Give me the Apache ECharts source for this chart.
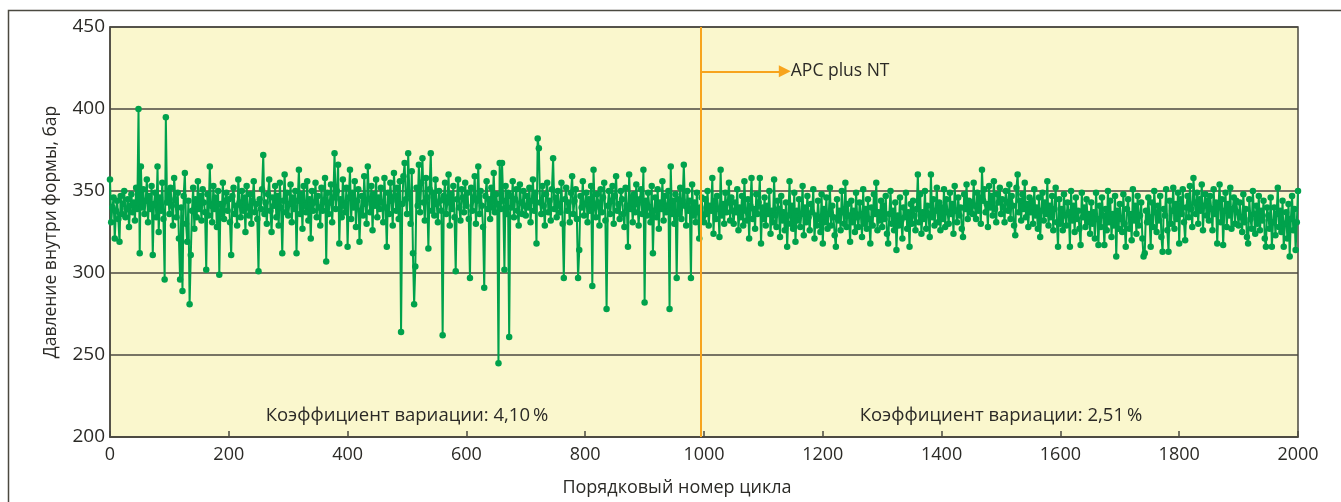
<!DOCTYPE html>
<html>
<head>
<meta charset="utf-8">
<script src="https://cdn.jsdelivr.net/npm/echarts@6/dist/echarts.min.js"></script>
<style>
  html, body { margin: 0; padding: 0; background: #fff; }
  #chart { width: 1341px; height: 502px; }
</style>
</head>
<body>
<div id="chart"></div>
<script>
// pressure per cycle, every 2nd cycle (0..2000)
var cycleStep = 2;
var pressure = [
  357, 331, 340, 346, 321, 338, 344, 333, 319, 347, 336, 342, 350, 334, 339, 345, 328, 341, 348, 337, 343, 332, 352, 339, 400,
  312, 365, 340, 351, 336, 344, 357, 331, 347, 339, 353, 311, 342, 349, 334, 365, 325, 346, 338, 355, 333, 296, 395, 343, 350,
  336, 352, 341, 329, 358, 345, 334, 349, 321, 296, 340, 289, 347, 361, 330, 319, 344, 281, 311, 338, 352, 327, 345, 334, 356,
  339, 347, 332, 351, 343, 337, 302, 348, 335, 365, 341, 331, 353, 339, 346, 328, 350, 299, 342, 336, 355, 333, 344, 349, 338,
  345, 331, 311, 347, 352, 336, 341, 329, 357, 343, 334, 350, 338, 346, 325, 353, 340, 335, 348, 330, 344, 356, 337, 342, 333,
  301, 345, 339, 351, 372, 336, 343, 330, 348, 357, 338, 325, 346, 341, 353, 334, 347, 329, 355, 340, 312, 344, 360, 337, 349,
  335, 342, 354, 331, 346, 339, 350, 312, 344, 363, 336, 348, 327, 353, 341, 337, 356, 332, 345, 321, 350, 338, 343, 355, 334,
  347, 340, 329, 352, 338, 344, 358, 307, 349, 336, 343, 354, 331, 346, 373, 339, 350, 366, 318, 345, 334, 357, 341, 337, 352,
  316, 346, 363, 333, 349, 340, 356, 328, 344, 351, 319, 338, 347, 335, 359, 342, 330, 365, 345, 337, 353, 326, 348, 341, 357,
  334, 346, 339, 352, 343, 331, 358, 340, 316, 349, 336, 355, 344, 329, 361, 347, 338, 352, 333, 356, 264, 342, 359, 367, 345,
  336, 373, 348, 330, 362, 312, 281, 304, 352, 341, 366, 337, 355, 370, 343, 332, 358, 346, 315, 351, 373, 338, 349, 335, 357,
  342, 331, 350, 344, 338, 262, 347, 355, 336, 343, 360, 329, 348, 339, 353, 334, 301, 345, 357, 340, 332, 351, 346, 337, 355,
  341, 349, 333, 297, 352, 338, 346, 359, 330, 344, 365, 336, 350, 341, 328, 291, 347, 356, 339, 345, 333, 352, 340, 361, 337,
  348, 342, 245, 367, 339, 367, 344, 302, 353, 336, 349, 261, 347, 340, 356, 334, 345, 351, 338, 329, 354, 343, 336, 350, 341,
  335, 347, 340, 352, 331, 344, 357, 338, 349, 318, 382, 376, 343, 336, 353, 341, 329, 348, 355, 337, 344, 332, 351, 370, 339,
  346, 334, 350, 341, 337, 355, 330, 297, 345, 352, 338, 343, 331, 349, 359, 336, 344, 351, 333, 297, 314, 347, 340, 356, 335,
  342, 349, 331, 345, 338, 353, 292, 363, 340, 334, 348, 343, 329, 351, 337, 346, 355, 332, 278, 341, 350, 336, 344, 353, 330,
  347, 359, 338, 342, 333, 350, 345, 336, 328, 352, 341, 316, 360, 339, 346, 331, 348, 337, 354, 342, 329, 345, 351, 336, 363,
  282, 344, 335, 349, 340, 331, 353, 312, 338, 346, 334, 351, 327, 343, 339, 356, 332, 347, 337, 341, 350, 278, 365, 336, 344,
  330, 348, 297, 345, 336, 352, 333, 344, 366, 341, 329, 350, 338, 344, 297, 354, 335, 343, 331, 349, 337, 321, 340, 346, 334,
  331, 345, 336, 350, 329, 341, 338, 358, 324, 344, 333, 347, 339, 322, 363, 335, 342, 330, 349, 337, 343, 355, 332, 346, 338,
  330, 343, 337, 351, 326, 340, 334, 347, 329, 356, 338, 332, 345, 321, 341, 358, 333, 339, 327, 348, 336, 343, 358, 318, 340,
  333, 346, 329, 341, 336, 350, 324, 338, 331, 357, 335, 328, 344, 339, 322, 347, 332, 337, 326, 343, 316, 335, 356, 330, 341,
  327, 349, 319, 338, 332, 345, 328, 336, 353, 323, 340, 331, 347, 334, 326, 342, 337, 351, 321, 335, 329, 344, 333, 325, 348,
  318, 339, 331, 346, 327, 336, 352, 329, 341, 334, 323, 316, 345, 332, 338, 326, 350, 337, 330, 355, 328, 342, 335, 319, 344,
  331, 338, 325, 349, 334, 328, 343, 336, 322, 351, 330, 339, 327, 345, 333, 318, 340, 329, 348, 336, 355, 326, 337, 332, 344,
  328, 341, 333, 347, 324, 318, 336, 350, 330, 338, 326, 343, 314, 335, 329, 346, 332, 321, 340, 334, 349, 327, 337, 316, 342,
  330, 344, 335, 326, 339, 360, 331, 348, 324, 337, 333, 350, 327, 341, 336, 322, 360, 334, 345, 329, 338, 352, 331, 343, 326,
  340, 333, 351, 328, 345, 337, 330, 349, 336, 342, 324, 353, 338, 331, 346, 335, 340, 327, 322, 348, 339, 354, 333, 344, 337,
  343, 336, 355, 341, 333, 349, 338, 346, 330, 363, 344, 351, 337, 342, 328, 353, 340, 347, 335, 356, 339, 331, 348, 343, 352,
  336, 345, 340, 331, 350, 343, 338, 354, 333, 347, 341, 329, 323, 352, 360, 337, 344, 332, 348, 339, 355, 334, 342, 328, 346,
  337, 344, 330, 351, 335, 340, 327, 346, 322, 338, 349, 332, 343, 336, 356, 329, 341, 334, 347, 326, 339, 352, 331, 316, 345,
  330, 339, 326, 348, 335, 329, 343, 337, 316, 350, 332, 341, 325, 346, 333, 338, 327, 317, 349, 334, 340, 328, 345, 331, 336,
  324, 343, 330, 337, 321, 349, 333, 317, 341, 328, 346, 335, 317, 339, 326, 350, 331, 344, 322, 336, 329, 347, 310, 338, 327,
  342, 333, 325, 348, 330, 316, 339, 345, 327, 336, 320, 351, 332, 341, 324, 347, 329, 335, 343, 321, 310, 312, 338, 331, 346,
  334, 316, 343, 328, 350, 337, 325, 341, 332, 347, 322, 313, 339, 335, 351, 326, 313, 344, 330, 338, 352, 327, 342, 333, 349,
  318, 345, 336, 351, 331, 320, 340, 347, 334, 353, 339, 328, 358, 343, 336, 349, 330, 345, 338, 354, 326, 341, 348, 335, 344,
  332, 347, 339, 326, 351, 336, 343, 318, 340, 354, 331, 345, 317, 338, 349, 328, 342, 335, 352, 327, 339, 346, 330, 344, 337,
  329, 343, 334, 325, 348, 331, 339, 322, 318, 345, 333, 327, 350, 336, 324, 341, 330, 347, 326, 338, 332, 344, 321, 316, 340,
  335, 327, 346, 316, 331, 340, 323, 336, 352, 328, 338, 325, 344, 316, 330, 337, 321, 342, 310, 333, 347, 326, 339, 314, 331, 350
];

var switchCycle = 994;       // APC plus NT switched on
var arrowEnd = 1136;
var arrowLevel = 423;
var cvLabels = [
  { cycle: 500, value: 213, text: 'Коэффициент вариации: 4,10\u2009%' },
  { cycle: 1500, value: 213, text: 'Коэффициент вариации: 2,51\u2009%' }
];

var dark = '#4b4940';
var ink = '#2b2a26';
var green = '#00a24c';
var orange = '#f7a41d';
var font = '"Open Sans", "Noto Sans", sans-serif';

var points = pressure.map(function (v, i) { return [i * cycleStep, v]; });

var chart = echarts.init(document.getElementById('chart'));
chart.setOption({
  animation: false,
  textStyle: { fontFamily: font },
  graphic: [{
    type: 'rect',
    shape: { x: 8.5, y: 10.5, width: 1340, height: 520 },
    style: { fill: 'none', stroke: dark, lineWidth: 1.5 },
    silent: true,
    z: -1
  }],
  grid: {
    left: 110, right: 43, top: 27, bottom: 59,
    show: true,
    backgroundColor: '#faf7cd',
    borderColor: dark,
    borderWidth: 1.5
  },
  xAxis: {
    type: 'value',
    min: 0, max: 2000, interval: 200,
    name: 'Порядковый номер цикла',
    nameLocation: 'middle',
    nameGap: 42,
    nameTextStyle: { fontSize: 18, color: ink, fontFamily: font, padding: [0, 54, 0, 0] },
    axisLine: { show: true, lineStyle: { color: dark, width: 1.5 } },
    axisTick: { show: true, inside: true, length: 6, lineStyle: { color: dark, width: 1.5 } },
    axisLabel: { fontSize: 18, color: ink, margin: 9, fontFamily: font, formatter: function (v) { return String(v); } },
    splitLine: { show: false }
  },
  yAxis: {
    type: 'value',
    min: 200, max: 450, interval: 50,
    name: 'Давление внутри формы, бар',
    nameLocation: 'middle',
    nameGap: 50,
    nameRotate: 90,
    nameTextStyle: { fontSize: 17.5, color: ink, fontFamily: font },
    axisLine: { show: true, lineStyle: { color: dark, width: 1.5 } },
    axisTick: { show: false },
    axisLabel: { fontSize: 19, color: ink, margin: 5, fontFamily: font },
    splitLine: { show: true, lineStyle: { color: dark, width: 1.5 } }
  },
  series: [{
    type: 'line',
    data: points,
    symbol: 'circle',
    symbolSize: 6.5,
    showAllSymbol: true,
    itemStyle: { color: green },
    lineStyle: { color: green, width: 2 },
    z: 3,
    markLine: {
      silent: true,
      symbol: ['none', 'none'],
      animation: false,
      z: 4,
      data: [
        [{ coord: [switchCycle, 200], lineStyle: { color: orange, width: 2, type: 'solid' } },
         { coord: [switchCycle, 450] }],
        [{ coord: [switchCycle, arrowLevel], lineStyle: { color: orange, width: 2, type: 'solid' },
           symbol: 'none' },
         { coord: [arrowEnd, arrowLevel], symbol: 'triangle', symbolSize: [12, 12], symbolRotate: -90,
           label: { show: true, position: 'end', formatter: 'APC plus NT', color: ink, fontSize: 17.5,
                    fontFamily: font, distance: 6 } }]
      ],
      label: { show: false }
    },
    markPoint: {
      silent: true,
      symbol: 'circle',
      symbolSize: 0,
      data: cvLabels.map(function (c) {
        return {
          coord: [c.cycle, c.value],
          label: { show: true, position: 'inside', formatter: c.text, color: ink, fontSize: 18.5, fontFamily: font }
        };
      })
    }
  }]
});
</script>
</body>
</html>
